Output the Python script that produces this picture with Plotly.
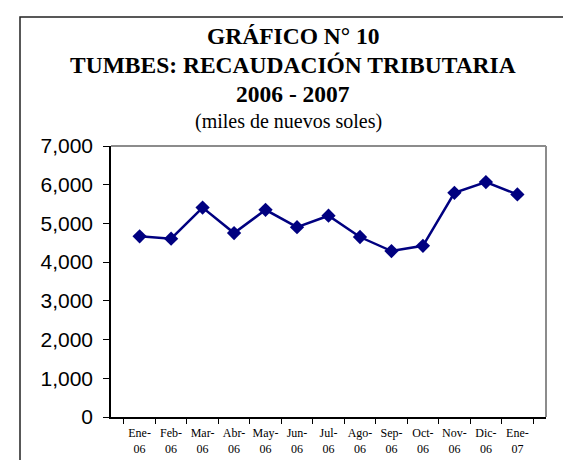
import plotly.graph_objects as go

# -----------------------------
# DATA
# -----------------------------
meses = ["Ene-<br>06", "Feb-<br>06", "Mar-<br>06", "Abr-<br>06", "May-<br>06",
         "Jun-<br>06", "Jul-<br>06", "Ago-<br>06", "Sep-<br>06", "Oct-<br>06",
         "Nov-<br>06", "Dic-<br>06", "Ene-<br>07"]
recaudacion = [4666, 4607, 5410, 4751, 5351, 4903, 5199, 4649, 4286, 4421,
               5790, 6069, 5748]

titulo = ["GRÁFICO N° 10", "TUMBES: RECAUDACIÓN TRIBUTARIA", "2006 - 2007"]
subtitulo = "(miles de nuevos soles)"

# plot area in pixels (571 x 460 page)
W, H = 571, 460
L, R, T, B = 103, 33, 137.5, 46
pw = W - L - R
ph = H - T - B


def px_x(p):
    return (p - L) / pw


def px_y(p):
    return (H - B - p) / ph


fig = go.Figure()

fig.add_trace(go.Scatter(
    x=meses,
    y=recaudacion,
    mode="lines+markers",
    line=dict(color="#000080", width=2.5),
    marker=dict(symbol="diamond", size=11, color="#000080"),
    showlegend=False,
    cliponaxis=False
))

# title lines
for txt, yc in zip(titulo, [25, 55, 84]):
    fig.add_annotation(
        text=f"<b>{txt}</b>", xref="paper", yref="paper",
        x=px_x(285), y=px_y(yc), xanchor="center", yanchor="middle",
        showarrow=False,
        font=dict(family="Liberation Serif, Times New Roman, serif", size=23.5, color="black")
    )

fig.add_annotation(
    text=subtitulo, xref="paper", yref="paper",
    x=px_x(280), y=px_y(113), xanchor="center", yanchor="middle",
    showarrow=False,
    font=dict(family="Liberation Serif, Times New Roman, serif", size=20, color="black")
)

# outer frame (runs off the right and bottom edges)
fig.add_shape(type="rect", xref="paper", yref="paper",
              x0=px_x(12), x1=px_x(580), y0=px_y(470), y1=px_y(6),
              line=dict(color="#222222", width=1.5), layer="below")

# gray top and right border of plot area
fig.add_shape(type="line", xref="paper", yref="paper",
              x0=0, x1=1, y0=1, y1=1, line=dict(color="#8c8c8c", width=2))
fig.add_shape(type="line", xref="paper", yref="paper",
              x0=1, x1=1, y0=0, y1=1, line=dict(color="#8c8c8c", width=2))

fig.update_xaxes(
    type="category",
    showline=True, linecolor="black", linewidth=1.5,
    ticks="outside", tickson="boundaries", ticklen=5, tickcolor="black",
    tickangle=0, ticklabelstandoff=4,
    showgrid=False, zeroline=False,
    tickfont=dict(family="Liberation Serif, Times New Roman, serif", size=12, color="black")
)

fig.update_yaxes(
    range=[0, 7000], dtick=1000, tickformat=",",
    showline=True, linecolor="black", linewidth=1.5,
    ticks="outside", ticklen=6, tickcolor="black", ticklabelstandoff=6,
    showgrid=False, zeroline=False,
    tickfont=dict(family="Liberation Sans, Arial, sans-serif", size=21, color="black")
)

fig.update_layout(
    width=W, height=H,
    margin=dict(l=L, r=R, t=T, b=B, pad=0),
    paper_bgcolor="white",
    plot_bgcolor="white"
)

fig.write_html("out.html")
